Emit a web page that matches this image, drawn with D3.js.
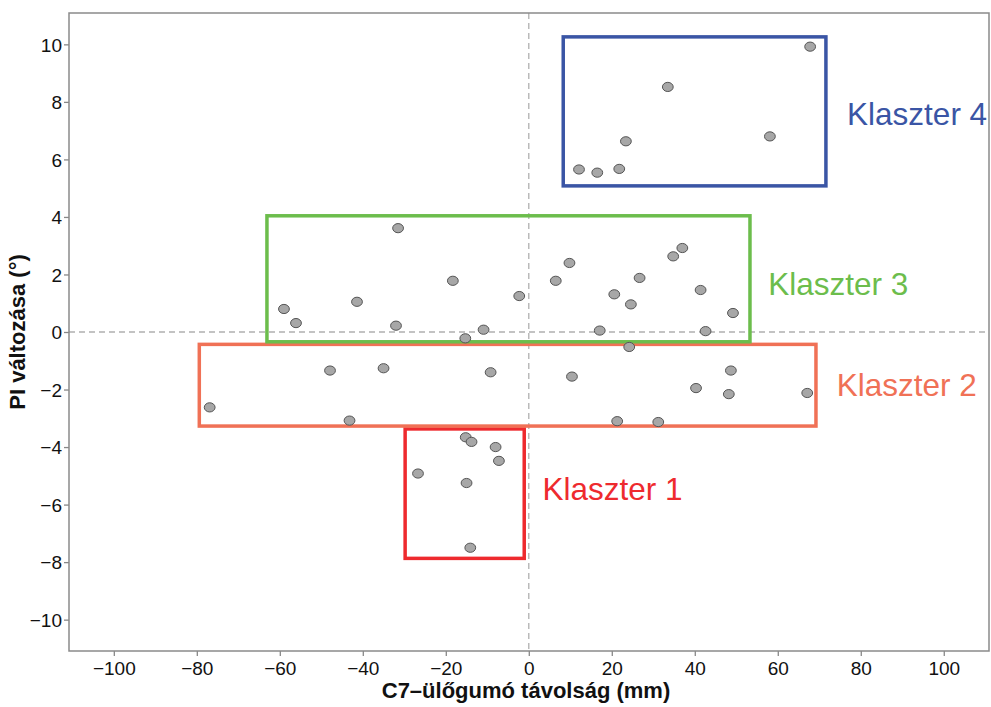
<!DOCTYPE html>
<html><head><meta charset="utf-8">
<script src="https://cdn.jsdelivr.net/npm/d3@7"></script>
<style>body{margin:0;background:#fff}svg{display:block}text{font-family:"Liberation Sans",Arial,sans-serif}</style>
</head><body><svg id="c" width="991" height="707"></svg>
<script>
const xTicks = [-100,-80,-60,-40,-20,0,20,40,60,80,100];
const yTicks = [-10,-8,-6,-4,-2,0,2,4,6,8,10];
const xTitle = "C7–ülőgumó távolság (mm)";
const yTitle = "PI változása (°)";
const pointsX = [67.8,33.5,23.4,58.1,12.1,16.5,21.8,
 -31.5,-18.3,-41.4,-59.0,-56.1,-32.0,-15.3,-10.9,-2.3,6.5,9.8,20.6,24.6,26.7,34.8,37.0,41.4,49.2,42.6,17.1,
 24.2,-47.9,-35.0,-76.9,-43.2,-9.2,10.4,40.3,48.7,48.2,21.3,31.2,67.1,
 -15.2,-13.8,-8.0,-7.2,-26.7,-15.0,-14.1];
const pointsY = [9.92,8.52,6.63,6.80,5.65,5.54,5.67,
 3.61,1.78,1.05,0.80,0.31,0.22,-0.22,0.08,1.25,1.78,2.40,1.31,0.96,1.88,2.63,2.92,1.46,0.66,0.03,0.05,
 -0.52,-1.34,-1.26,-2.62,-3.08,-1.40,-1.55,-1.95,-1.34,-2.16,-3.10,-3.13,-2.12,
 -3.66,-3.82,-4.00,-4.48,-4.92,-5.25,-7.50];
const clusterNames = ["Klaszter 1","Klaszter 2","Klaszter 3","Klaszter 4"];
const clusterX0 = [-29.8,-79.4,-63.1,8.3];
const clusterX1 = [-1.1,69.2,53.3,71.6];
const clusterY0 = [-7.87,-3.27,-0.34,5.08];
const clusterY1 = [-3.37,-0.43,4.04,10.26];
const clusterColors = ["#ee2a2e","#f07156","#6cbd4c","#3a55a5"];
const labelX = [3.3,74.2,57.7,76.7];
const labelY = [-5.83,-2.22,1.29,7.2];

const svg = d3.select("#c");
const L=69, R=989, T=13, B=651;
const x = d3.scaleLinear().domain([-110.8,110.9]).range([L,R]);
const y = d3.scaleLinear().domain([-11.09,11.09]).range([B,T]);

// zero lines
svg.append("line").attr("x1",x(0)).attr("x2",x(0)).attr("y1",T).attr("y2",B)
 .attr("stroke","#b0b0b0").attr("stroke-width",1.3).attr("stroke-dasharray","6,4");
svg.append("line").attr("x1",L).attr("x2",R).attr("y1",y(0)).attr("y2",y(0))
 .attr("stroke","#b0b0b0").attr("stroke-width",1.3).attr("stroke-dasharray","6,4");

// axes
const fmt = d3.format("");
const gx = svg.append("g").attr("transform",`translate(0,${B})`)
 .call(d3.axisBottom(x).tickValues(xTicks).tickFormat(fmt).tickSize(5).tickSizeOuter(0));
const gy = svg.append("g").attr("transform",`translate(${L},0)`)
 .call(d3.axisLeft(y).tickValues(yTicks).tickFormat(fmt).tickSize(5).tickSizeOuter(0));
[gx,gy].forEach(g=>{
  g.select(".domain").remove();
  g.selectAll(".tick line").attr("stroke","#888").attr("stroke-width",1.3);
  g.selectAll(".tick text").attr("fill","#111").style("font-size","19px");
});
gx.selectAll(".tick text").attr("dy","1.0em").attr("y",5);
gy.selectAll(".tick text").attr("x",-7).attr("dy","0.36em");

// frame
svg.append("rect").attr("x",L).attr("y",T).attr("width",R-L).attr("height",B-T)
 .attr("fill","none").attr("stroke","#8a8a8a").attr("stroke-width",1.5);

// cluster boxes
const idx = d3.range(clusterNames.length);
svg.append("g").selectAll("rect").data(idx).join("rect")
 .attr("x",i=>x(clusterX0[i])).attr("y",i=>y(clusterY1[i]))
 .attr("width",i=>x(clusterX1[i])-x(clusterX0[i]))
 .attr("height",i=>y(clusterY0[i])-y(clusterY1[i]))
 .attr("fill","none").attr("stroke",i=>clusterColors[i]).attr("stroke-width",3.5);

// points
svg.append("g").selectAll("ellipse").data(d3.range(pointsX.length)).join("ellipse")
 .attr("cx",i=>x(pointsX[i])).attr("cy",i=>y(pointsY[i]))
 .attr("rx",5.4).attr("ry",4.6)
 .attr("fill","#a7a7a7").attr("stroke","#555").attr("stroke-width",1);

// labels
svg.append("g").selectAll("text").data(idx).join("text")
 .attr("x",i=>x(labelX[i])).attr("y",i=>y(labelY[i]))
 .attr("fill",i=>clusterColors[i]).style("font-size","31.5px")
 .text(i=>clusterNames[i]);

// titles
svg.append("text").attr("x",526).attr("y",698).attr("text-anchor","middle")
 .style("font-size","22px").style("font-weight","bold").attr("fill","#111").text(xTitle);
svg.append("text").attr("transform",`translate(25,${(T+B)/2}) rotate(-90)`).attr("text-anchor","middle")
 .style("font-size","22px").style("font-weight","bold").attr("fill","#111").text(yTitle);
</script></body></html>
